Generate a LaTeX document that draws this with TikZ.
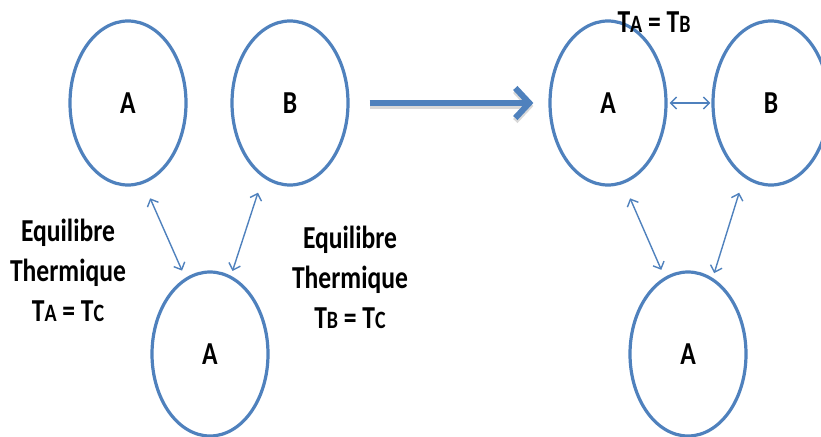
\documentclass[tikz,border=0pt]{standalone}
\usepackage{fontspec}
\setmainfont[FakeStretch=0.8]{Carlito}
\usepackage{graphicx}
\usepackage{xcolor}
\definecolor{color1}{HTML}{4F81BD}
\usepackage{tikz}
\usetikzlibrary{arrows.meta, positioning, shapes.geometric}
\tikzset{%
    body/.style={%
        draw=color1, ellipse, line width=3.2pt, minimum width=116pt, minimum height=164pt,
        inner sep=0, font=\fontsize{32}{32}\selectfont\bfseries
    },
    contact/.style={%
        draw=color1, line width=1.4pt,
        {Straight Barb[length=6pt,width=12pt]}-{Straight Barb[length=6pt,width=12pt]}
    },
    eqlabel/.style={%
        align=center, inner sep=0, font=\fontsize{32}{40}\selectfont\bfseries
    },
}
\newcommand{\Tsub}[1]{T\scalebox{0.78}{#1}}

\begin{document}
\begin{tikzpicture}[x=1pt, y=-1pt,
        bigarrow/.style={line width=6pt, -{Straight Barb[length=14pt,width=30pt]}},
        startgap/.style={shorten <=16pt},
    ]
    \clip (0,0) rectangle (821,436);
    \useasboundingbox (0,0) rectangle (821,436);

    % before
    \node[body] (A1) at (128,103) {A};
    \node[body] (B1) at (290,103) {B};
    \node[body] (C1) at (210,354) {A};

    % after
    \node[body] (A2) at (608,103) {A};
    \node[body] (B2) at (771,103) {B};
    \node[body] (C2) at (688,354) {A};

    \node[eqlabel] (eqAC) at (68,270) {Equilibre\\Thermique\\\Tsub{A} = \Tsub{C}};
    \node[eqlabel] (eqBC) at (350,277) {Equilibre\\Thermique\\\Tsub{B} = \Tsub{C}};
    \node[eqlabel] (eqAB) at (654,22) {\Tsub{A} = \Tsub{B}};

    \draw[contact, startgap, shorten >=8pt] (A1.-79) -- (C1.108);
    \draw[contact, startgap, shorten >=5pt] (B1.-110) -- (C1.75);
    \draw[contact, startgap, shorten >=8pt] (A2.-79) -- (C2.107);
    \draw[contact, startgap, shorten >=5pt] (B2.-110) -- (C2.72);
    \draw[contact, shorten <=2pt, shorten >=1pt] (A2.east) -- (B2.west);

    % shadow, then arrow
    \draw[bigarrow, black!30, opacity=0.5, transform canvas={yshift=-3pt}, shorten <=20pt, shorten >=15pt] (B1.east) -- (A2.west);
    \draw[bigarrow, color1, shorten <=20pt, shorten >=15pt] (B1.east) -- (A2.west);
\end{tikzpicture}
\end{document}
